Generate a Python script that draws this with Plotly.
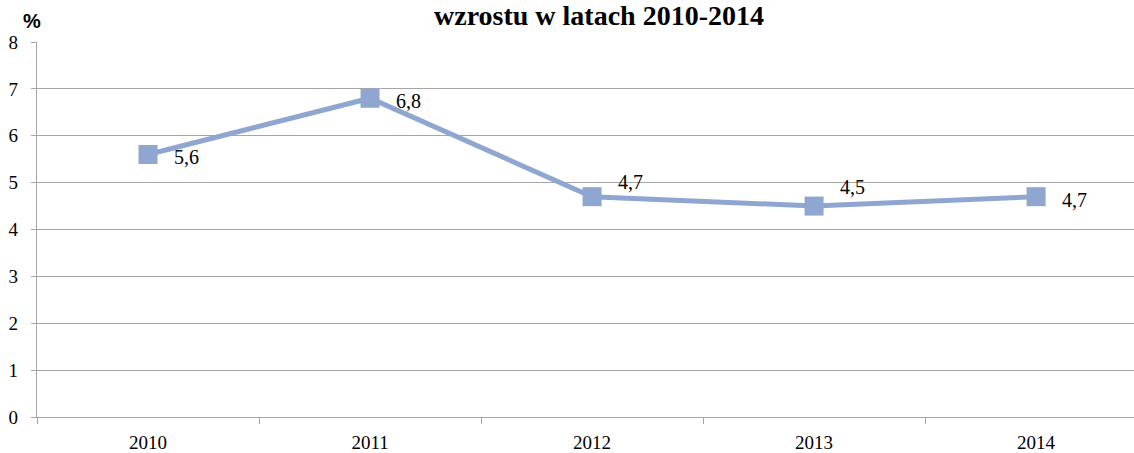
import plotly.graph_objects as go

# Data
years = ["2010", "2011", "2012", "2013", "2014"]
values = [5.6, 6.8, 4.7, 4.5, 4.7]
labels = ["5,6", "6,8", "4,7", "4,5", "4,7"]
y_ticks = [0, 1, 2, 3, 4, 5, 6, 7, 8]

# Styles
label_yshift = [-2, -3, 15, 19, -3]
line_color = "#8EA6D0"
grid_color = "#A6A6A6"
serif = "Liberation Serif, Times New Roman, serif"

fig = go.Figure()
fig.add_trace(go.Scatter(
    x=years, y=values, mode="lines+markers",
    line=dict(color=line_color, width=5),
    marker=dict(symbol="square", size=19, color=line_color),
    hoverinfo="skip", showlegend=False,
))

for i, (v, lab, ys) in enumerate(zip(values, labels, label_yshift)):
    fig.add_annotation(x=i, y=v, text=lab, showarrow=False, xref="x", yref="y",
                       xshift=38, yshift=ys, font=dict(family=serif, size=20, color="black"))

fig.add_annotation(text="<b>wzrostu w latach 2010-2014</b>", xref="paper", yref="paper",
                   x=(599 - 37) / 1097, y=1 + (42 - 15) / 377, xanchor="center", yanchor="middle",
                   showarrow=False, font=dict(family=serif, size=28, color="black"))
fig.add_annotation(text="<b>%</b>", xref="paper", yref="paper",
                   x=(32 - 37) / 1097, y=1 + (42 - 21) / 377, xanchor="center", yanchor="middle",
                   showarrow=False, font=dict(family="Liberation Sans, Arial, sans-serif", size=20, color="black"))

fig.update_layout(
    width=1134, height=453,
    margin=dict(l=37, r=0, t=42, b=34),
    paper_bgcolor="white", plot_bgcolor="white",
    xaxis=dict(type="category", range=[-0.5, 4.441], tickson="boundaries",
               ticks="outside", ticklen=6, tickcolor=grid_color, tickwidth=1.3,
               showline=True, linecolor=grid_color, linewidth=1.3, showgrid=False,
               ticklabelstandoff=8,
               tickfont=dict(family=serif, size=19, color="black")),
    yaxis=dict(range=[0, 8], tickvals=y_ticks, ticks="outside", ticklen=5,
               tickcolor=grid_color, tickwidth=1.3, showline=True, linecolor=grid_color,
               linewidth=1.3, gridcolor=grid_color, gridwidth=1.3, zeroline=False,
               ticklabelstandoff=9,
               tickfont=dict(family=serif, size=19, color="black")),
)

fig.write_html("out.html", config={"displayModeBar": False},
               post_script="document.body.style.margin='0';")
